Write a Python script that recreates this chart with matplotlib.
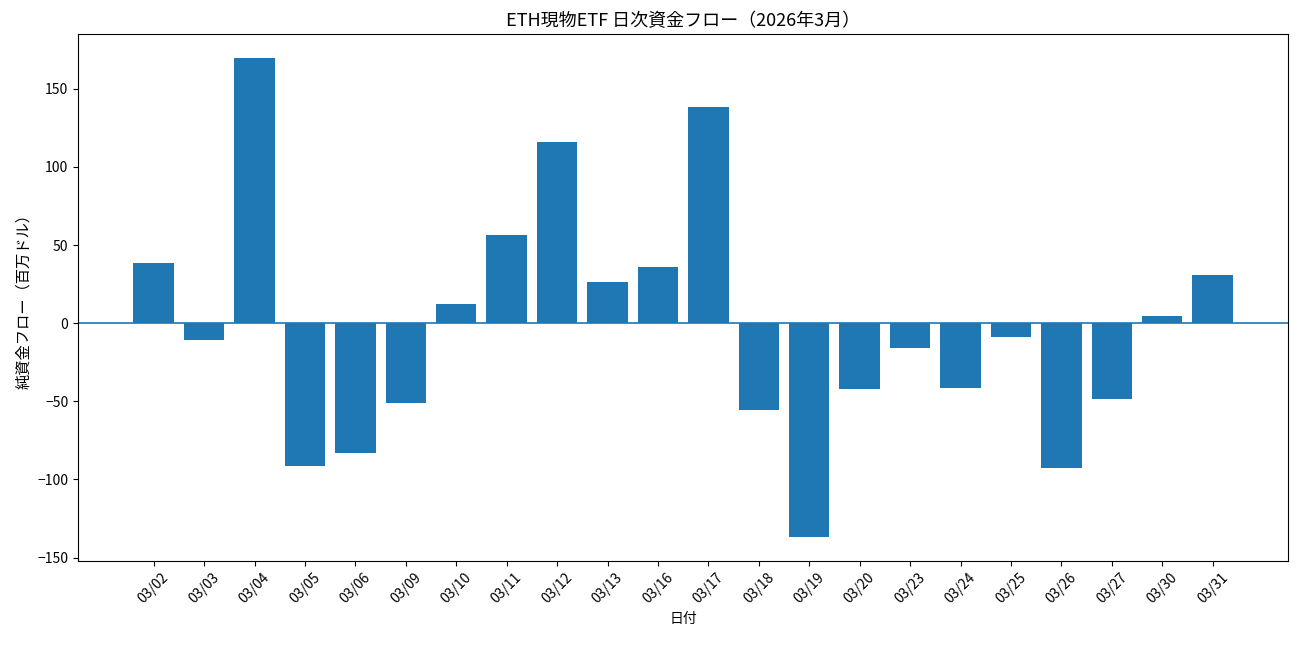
import matplotlib
matplotlib.use("Agg")
import matplotlib.pyplot as plt

plt.rcParams['font.family'] = ['Noto Sans CJK JP', 'DejaVu Sans']
plt.rcParams['axes.unicode_minus'] = True

dates = ["03/02", "03/03", "03/04", "03/05", "03/06", "03/09", "03/10", "03/11",
         "03/12", "03/13", "03/16", "03/17", "03/18", "03/19", "03/20", "03/23",
         "03/24", "03/25", "03/26", "03/27", "03/30", "03/31"]
flows = [38.6, -10.9, 169.6, -91.2, -83.4, -51.4, 12.3, 56.5,
         115.9, 26.4, 35.8, 138.3, -55.9, -137.0, -42.2, -16.2,
         -41.2, -8.6, -93.0, -48.8, 4.7, 30.9]

fig = plt.figure(figsize=(13, 6.45), dpi=100)
ax = fig.add_axes([0.06, 0.13, 0.931, 0.817])
x = list(range(len(dates)))
ax.bar(x, flows, width=0.8, color='#1f77b4')
ax.axhline(0, color='#1f77b4', linewidth=1.2)
ax.set_xticks(x)
ax.set_xticklabels(dates, rotation=45)
ax.set_xlim(-1.5, len(dates) + 0.5)
ax.set_title("ETH現物ETF 日次資金フロー（2026年3月）", fontsize=13)
ax.set_xlabel("日付")
ax.set_ylabel("純資金フロー（百万ドル）", fontsize=11)
fig.savefig("out.png", dpi=100)
